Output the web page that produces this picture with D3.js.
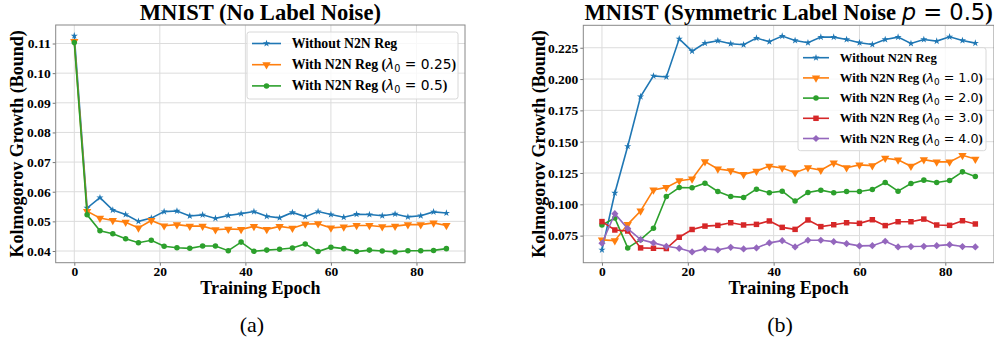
<!DOCTYPE html>
<html>
<head>
<meta charset="utf-8">
<script src="https://cdn.jsdelivr.net/npm/d3@7"></script>
<style>
  body { margin: 0; background: #fff; }
  svg { display: block; }
</style>
</head>
<body>
<div id="chart"></div>
<script>
// training epochs (x values, shared by both panels)
var epochs = [0, 3, 6, 9, 12, 15, 18, 21, 24, 27, 30, 33, 36, 39, 42, 45, 48, 51, 54, 57, 60, 63, 66, 69, 72, 75, 78, 81, 84, 87];
var xTicks = [0, 20, 40, 60, 80];

// (a) no label noise
var cleanNoReg = [0.1126, 0.0545, 0.0580, 0.0538, 0.0523, 0.0500, 0.0511, 0.0533, 0.0535, 0.0518, 0.0522, 0.0510, 0.0520, 0.0526, 0.0533, 0.0517, 0.0512, 0.0530, 0.0516, 0.0533, 0.0523, 0.0514, 0.0524, 0.0523, 0.0519, 0.0525, 0.0515, 0.0519, 0.0532, 0.0528];
var cleanReg025 = [0.1107, 0.0534, 0.0511, 0.0503, 0.0497, 0.0478, 0.0503, 0.0485, 0.0489, 0.0484, 0.0484, 0.0472, 0.0474, 0.0473, 0.0483, 0.0473, 0.0483, 0.0477, 0.0491, 0.0492, 0.0478, 0.0481, 0.0486, 0.0486, 0.0482, 0.0484, 0.0489, 0.0489, 0.0495, 0.0486];
var cleanReg05 = [0.1103, 0.0522, 0.0468, 0.0458, 0.0441, 0.0428, 0.0436, 0.0416, 0.0411, 0.0409, 0.0417, 0.0417, 0.0401, 0.0430, 0.0399, 0.0403, 0.0406, 0.0410, 0.0424, 0.0398, 0.0413, 0.0408, 0.0398, 0.0403, 0.0400, 0.0397, 0.0401, 0.0401, 0.0402, 0.0408];
var cleanYTicks = [0.04, 0.05, 0.06, 0.07, 0.08, 0.09, 0.10, 0.11];
var cleanLabels = ["0.25", "0.5"];

// (b) symmetric label noise p = 0.5
var noisyNoReg = [0.0636, 0.1090, 0.1463, 0.1860, 0.2025, 0.2017, 0.2321, 0.2223, 0.2287, 0.2306, 0.2282, 0.2274, 0.2327, 0.2298, 0.2343, 0.2308, 0.2290, 0.2335, 0.2335, 0.2316, 0.2290, 0.2276, 0.2316, 0.2335, 0.2284, 0.2316, 0.2303, 0.2337, 0.2308, 0.2287];
var noisyReg1 = [0.0716, 0.0710, 0.0840, 0.0947, 0.1115, 0.1135, 0.1188, 0.1202, 0.1341, 0.1282, 0.1269, 0.1239, 0.1265, 0.1305, 0.1290, 0.1252, 0.1292, 0.1273, 0.1330, 0.1292, 0.1315, 0.1309, 0.1368, 0.1355, 0.1304, 0.1357, 0.1339, 0.1339, 0.1391, 0.1361];
var noisyReg2 = [0.0835, 0.0890, 0.0652, 0.0718, 0.0808, 0.1063, 0.1134, 0.1132, 0.1169, 0.1102, 0.1063, 0.1055, 0.1121, 0.1092, 0.1105, 0.1026, 0.1094, 0.1113, 0.1092, 0.1102, 0.1102, 0.1118, 0.1174, 0.1105, 0.1166, 0.1193, 0.1174, 0.1190, 0.1259, 0.1222];
var noisyReg3 = [0.0862, 0.0795, 0.0787, 0.0652, 0.0649, 0.0647, 0.0737, 0.0799, 0.0826, 0.0832, 0.0853, 0.0835, 0.0840, 0.0867, 0.0816, 0.0800, 0.0875, 0.0822, 0.0837, 0.0853, 0.0848, 0.0877, 0.0830, 0.0861, 0.0861, 0.0882, 0.0835, 0.0832, 0.0869, 0.0843];
var noisyReg4 = [0.0689, 0.0925, 0.0806, 0.0718, 0.0692, 0.0665, 0.0649, 0.0620, 0.0644, 0.0636, 0.0657, 0.0644, 0.0652, 0.0692, 0.0710, 0.0660, 0.0713, 0.0713, 0.0702, 0.0686, 0.0668, 0.0670, 0.0705, 0.0660, 0.0663, 0.0665, 0.0670, 0.0678, 0.0663, 0.0660];
var noisyYTicks = [0.075, 0.100, 0.125, 0.150, 0.175, 0.200, 0.225];
var noisyLabels = ["1.0", "2.0", "3.0", "4.0"];

var serif = "'Liberation Serif', 'Times New Roman', serif";
var mathFont = "'DejaVu Sans', sans-serif";

var svg = d3.select("#chart").append("svg")
    .attr("width", 994)
    .attr("height", 337);

// marker shapes, matplotlib style: * v o s D
function markerPath(kind) {
  if (kind === "star") return d3.symbol(d3.symbolStar, 16)();
  if (kind === "tri") return d3.symbol(d3.symbolTriangle, 30)();
  if (kind === "circle") return d3.symbol(d3.symbolCircle, 24)();
  if (kind === "square") return d3.symbol(d3.symbolSquare, 30)();
  return d3.symbol(d3.symbolSquare, 26)();
}
function markerRot(kind) {
  if (kind === "tri") return " rotate(180)";
  if (kind === "diamond") return " rotate(45)";
  return "";
}

function drawPanel(p) {
  var g = svg.append("g");
  var all = [].concat.apply([], p.series.map(s => s.values));
  var lo = d3.min(all), hi = d3.max(all), pad = (hi - lo) * 0.05;

  var x = d3.scaleLinear().domain([-4.35, 91.35]).range([p.left, p.right]);
  var y = d3.scaleLinear().domain([lo - pad, hi + pad]).range([p.bottom, p.top]);

  // grid
  g.append("g").selectAll("line").data(xTicks).join("line")
    .attr("x1", d => x(d)).attr("x2", d => x(d))
    .attr("y1", p.top).attr("y2", p.bottom)
    .attr("stroke", "#dcdcdc").attr("stroke-width", 1);
  g.append("g").selectAll("line").data(p.yTicks).join("line")
    .attr("x1", p.left).attr("x2", p.right)
    .attr("y1", d => y(d)).attr("y2", d => y(d))
    .attr("stroke", "#dcdcdc").attr("stroke-width", 1);

  // axes
  var xa = g.append("g")
    .attr("transform", `translate(0,${p.bottom})`)
    .call(d3.axisBottom(x).tickValues(xTicks).tickSize(3).tickPadding(1).tickFormat(d3.format("d")));
  var ya = g.append("g")
    .attr("transform", `translate(${p.left},0)`)
    .call(d3.axisLeft(y).tickValues(p.yTicks).tickSize(3).tickPadding(2).tickFormat(d3.format(p.fmt)));
  [xa, ya].forEach(function(a) {
    a.select(".domain").remove();
    a.selectAll("line").attr("stroke", "#777");
    a.selectAll("text")
      .style("font-family", serif).style("font-weight", "bold")
      .style("font-size", "13.5px").attr("fill", "#000");
  });

  // frame
  g.append("rect")
    .attr("x", p.left).attr("y", p.top)
    .attr("width", p.right - p.left).attr("height", p.bottom - p.top)
    .attr("fill", "none").attr("stroke", "#888").attr("stroke-width", 1);

  // lines + markers
  var line = d3.line().x((d, i) => x(epochs[i])).y(d => y(d));
  p.series.forEach(function(s) {
    g.append("path").datum(s.values)
      .attr("d", line)
      .attr("fill", "none").attr("stroke", s.color).attr("stroke-width", 1.6);
    g.append("g").selectAll("path").data(s.values).join("path")
      .attr("d", markerPath(s.marker))
      .attr("transform", (d, i) => `translate(${x(epochs[i])},${y(d)})` + markerRot(s.marker))
      .attr("fill", s.color);
  });

  // title
  var t = g.append("text")
    .attr("x", (p.left + p.right) / 2).attr("y", 20)
    .attr("text-anchor", "middle")
    .style("font-family", serif).style("font-weight", "bold").style("font-size", "22.6px");
  t.append("tspan").text(p.title);
  if (p.titleMath) {
    t.append("tspan").style("font-family", mathFont).style("font-weight", "normal").style("font-style", "italic").text("p");
    t.append("tspan").style("font-family", mathFont).style("font-weight", "normal").text(" = 0.5");
    t.append("tspan").text(")");
  }

  // axis labels
  g.append("text")
    .attr("x", (p.left + p.right) / 2).attr("y", 293.5)
    .attr("text-anchor", "middle")
    .style("font-family", serif).style("font-weight", "bold").style("font-size", "18px")
    .text("Training Epoch");
  g.append("text")
    .attr("transform", `translate(${p.ylabelX},${(p.top + p.bottom) / 2}) rotate(-90)`)
    .attr("text-anchor", "middle")
    .style("font-family", serif).style("font-weight", "bold").style("font-size", "18px")
    .text("Kolmogorov Growth (Bound)");

  // sub caption
  g.append("text")
    .attr("x", p.capX).attr("y", 332)
    .attr("text-anchor", "middle")
    .style("font-family", serif).style("font-size", "22px")
    .text(p.caption);

  // legend
  var L = p.legend;
  g.append("rect")
    .attr("x", L.x).attr("y", L.y).attr("width", L.w).attr("height", L.h)
    .attr("rx", 2.5)
    .attr("fill", "#fff").attr("fill-opacity", 0.8)
    .attr("stroke", "#d8d8d8").attr("stroke-width", 1);
  p.series.forEach(function(s, i) {
    var yy = L.y0 + i * L.dy;
    g.append("line")
      .attr("x1", L.x + 5).attr("x2", L.x + 5 + L.lineW)
      .attr("y1", yy).attr("y2", yy)
      .attr("stroke", s.color).attr("stroke-width", 1.6);
    g.append("path")
      .attr("d", markerPath(s.marker))
      .attr("transform", `translate(${L.x + 5 + L.lineW / 2},${yy})` + markerRot(s.marker))
      .attr("fill", s.color);
    var tx = g.append("text")
      .attr("x", L.x + L.textOff).attr("y", yy + L.fs * 0.33)
      .style("font-family", serif).style("font-weight", "bold").style("font-size", L.fs + "px");
    if (s.lambda == null) {
      tx.text("Without N2N Reg");
    } else {
      tx.append("tspan").text("With N2N Reg (");
      tx.append("tspan").style("font-family", mathFont).style("font-weight", "normal").style("font-style", "italic").text("λ");
      tx.append("tspan").style("font-family", mathFont).style("font-weight", "normal")
        .style("font-size", (L.fs * 0.7) + "px").attr("dy", 3).text("0");
      tx.append("tspan").style("font-family", mathFont).style("font-weight", "normal").attr("dy", -3).text(" = " + s.lambda);
      tx.append("tspan").text(")");
    }
  });
}

var colors = ["#1f77b4", "#ff7f0e", "#2ca02c", "#d62728", "#9467bd"];
var markers = ["star", "tri", "circle", "square", "diamond"];

drawPanel({
  left: 55.7, right: 465, top: 25, bottom: 262.7,
  yTicks: cleanYTicks, fmt: ".2f",
  title: "MNIST (No Label Noise)",
  ylabelX: 23, capX: 252, caption: "(a)",
  series: [
    {values: cleanNoReg, color: colors[0], marker: markers[0], lambda: null},
    {values: cleanReg025, color: colors[1], marker: markers[1], lambda: cleanLabels[0]},
    {values: cleanReg05, color: colors[2], marker: markers[2], lambda: cleanLabels[1]}
  ],
  legend: {x: 247, y: 32, w: 211, h: 67, y0: 43.5, dy: 21.2, lineW: 29, textOff: 44.7, fs: 13.8}
});

drawPanel({
  left: 583.3, right: 994, top: 25.3, bottom: 262.7,
  yTicks: noisyYTicks, fmt: ".3f",
  title: "MNIST (Symmetric Label Noise ", titleMath: true,
  ylabelX: 545, capX: 780, caption: "(b)",
  series: [
    {values: noisyNoReg, color: colors[0], marker: markers[0], lambda: null},
    {values: noisyReg1, color: colors[1], marker: markers[1], lambda: noisyLabels[0]},
    {values: noisyReg2, color: colors[2], marker: markers[2], lambda: noisyLabels[1]},
    {values: noisyReg3, color: colors[3], marker: markers[3], lambda: noisyLabels[2]},
    {values: noisyReg4, color: colors[4], marker: markers[4], lambda: noisyLabels[3]}
  ],
  legend: {x: 798, y: 47.7, w: 188, h: 103, y0: 57.7, dy: 20.2, lineW: 26, textOff: 41.7, fs: 12.7}
});
</script>
</body>
</html>
